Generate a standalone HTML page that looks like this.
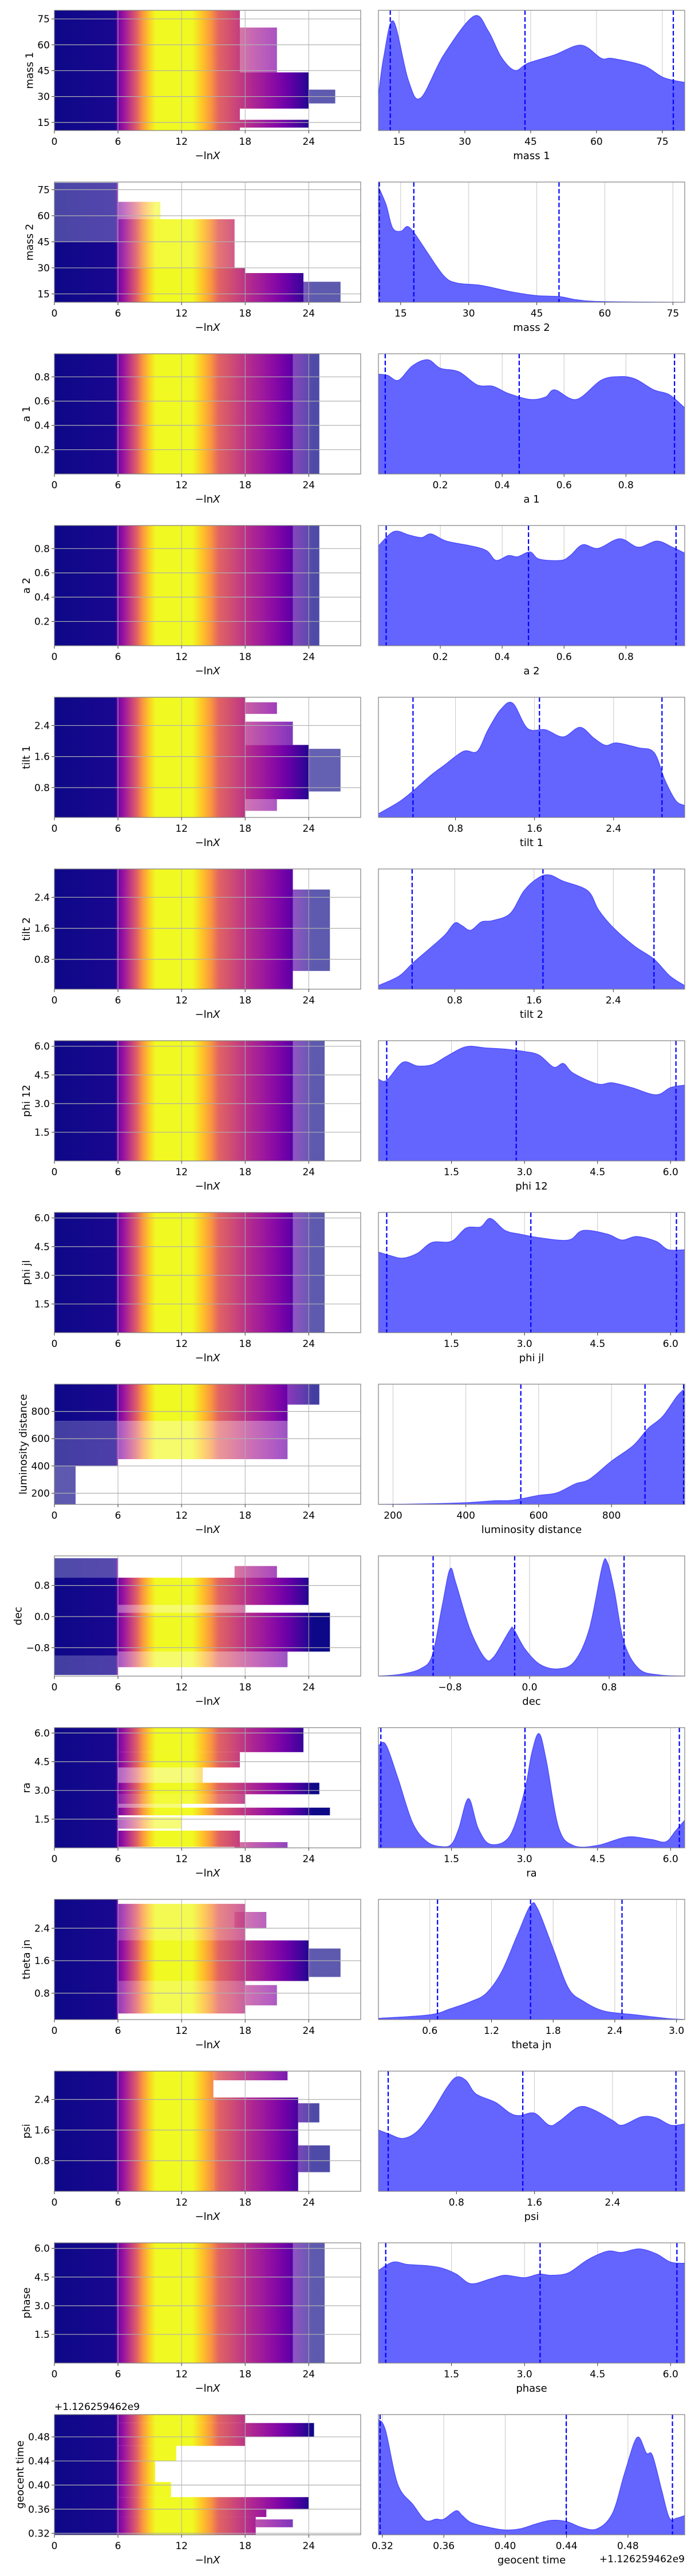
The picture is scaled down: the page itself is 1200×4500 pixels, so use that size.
<!DOCTYPE html>
<html><head><meta charset="utf-8"><title>Nested sampling trace plots</title>
<style>
html,body{margin:0;padding:0;background:#fff;}
svg{display:block;font-family:"DejaVu Sans","Liberation Sans",sans-serif;}
</style></head>
<body>
<svg id="fig" width="1200" height="4500" viewBox="0 0 1200 4500" xmlns="http://www.w3.org/2000/svg">
<defs>
<linearGradient id="plasma" gradientUnits="userSpaceOnUse" x1="95" y1="0" x2="630" y2="0">
<stop offset="0" stop-color="#0d0887"/>
<stop offset="0.200" stop-color="#1a0791"/>
<stop offset="0.205" stop-color="#6a00a8"/>
<stop offset="0.228" stop-color="#9c179e"/>
<stop offset="0.250" stop-color="#c33d80"/>
<stop offset="0.270" stop-color="#e16462"/>
<stop offset="0.287" stop-color="#f89540"/>
<stop offset="0.311" stop-color="#fccf25"/>
<stop offset="0.330" stop-color="#f0f921"/>
<stop offset="0.450" stop-color="#f0f921"/>
<stop offset="0.484" stop-color="#fdc328"/>
<stop offset="0.512" stop-color="#f89540"/>
<stop offset="0.536" stop-color="#e16462"/>
<stop offset="0.588" stop-color="#cc4778"/>
<stop offset="0.640" stop-color="#b12a90"/>
<stop offset="0.709" stop-color="#8f0da4"/>
<stop offset="0.760" stop-color="#6a00a8"/>
<stop offset="0.810" stop-color="#3a049a"/>
<stop offset="0.845" stop-color="#0d0887"/>
<stop offset="1" stop-color="#0d0887"/>
</linearGradient>
</defs>
</svg>
<script>
// ---------- KDE data (posterior densities, fraction of panel height) ----------
const mass1X=[10.3,11.5,13.7,17.1,19.9,25.2,32,35.3,38.3,41.4,44.4,50.5,56.5,61.1,63.6,70.7,75.3,80.1];
const mass1D=[0.29,0.61,0.91,0.42,0.27,0.63,0.95,0.83,0.61,0.5,0.56,0.63,0.71,0.60,0.60,0.54,0.44,0.40];
const mass1Q=[13.0,43.7,77.5];
const mass2X=[10.1,11.8,13.2,15,16.5,18.1,20.6,24.5,27.4,32.8,39.2,45,50,53.9,59.7,77.6];
const mass2D=[0.96,0.81,0.62,0.59,0.63,0.57,0.43,0.22,0.16,0.14,0.088,0.055,0.047,0.02,0.005,0];
const mass2Q=[10.3,17.9,49.9];
const a1X=[0,0.03,0.065,0.11,0.16,0.2,0.26,0.32,0.37,0.42,0.49,0.54,0.57,0.64,0.72,0.78,0.83,0.89,0.94,0.99];
const a1D=[0.83,0.82,0.78,0.90,0.95,0.88,0.85,0.74,0.73,0.67,0.62,0.64,0.70,0.62,0.78,0.81,0.79,0.70,0.66,0.55];
const a1Q=[0.022,0.455,0.957];
const a2X=[0,0.05,0.1,0.14,0.17,0.22,0.3,0.35,0.38,0.42,0.45,0.49,0.52,0.59,0.62,0.66,0.71,0.78,0.84,0.9,0.95,0.99];
const a2D=[0.83,0.95,0.92,0.90,0.93,0.87,0.83,0.79,0.71,0.75,0.74,0.78,0.72,0.71,0.75,0.84,0.81,0.89,0.82,0.87,0.82,0.77];
const a2Q=[0.025,0.485,0.962];
const tilt1X=[0.02,0.23,0.37,0.55,0.68,0.88,1.02,1.13,1.26,1.38,1.53,1.71,1.89,2.06,2.2,2.32,2.43,2.65,2.81,2.92,3.03,3.12];
const tilt1D=[0.03,0.13,0.22,0.35,0.43,0.55,0.55,0.73,0.90,0.95,0.74,0.73,0.67,0.75,0.66,0.60,0.62,0.58,0.54,0.31,0.14,0.10];
const tilt1Q=[0.37,1.65,2.89];
const tilt2X=[0.03,0.24,0.38,0.55,0.7,0.8,0.87,0.96,1.07,1.18,1.36,1.5,1.65,1.76,1.89,2.14,2.25,2.39,2.61,2.81,2.97,3.12];
const tilt2D=[0.03,0.11,0.22,0.34,0.45,0.55,0.53,0.49,0.56,0.57,0.63,0.82,0.93,0.95,0.90,0.82,0.66,0.52,0.36,0.25,0.11,0.03];
const tilt2Q=[0.37,1.69,2.81];
const phi12X=[0,0.17,0.5,0.8,1.1,1.4,1.8,2.2,2.6,3.0,3.3,3.6,3.8,4.0,4.5,4.8,5.2,5.7,6.0,6.29];
const phi12D=[0.68,0.67,0.82,0.79,0.80,0.87,0.95,0.94,0.93,0.91,0.88,0.78,0.81,0.73,0.64,0.65,0.61,0.55,0.61,0.63];
const phi12Q=[0.17,2.83,6.11];
const phijlX=[0,0.25,0.5,0.8,1.1,1.5,1.8,2.1,2.3,2.6,2.9,3.3,3.9,4.2,4.7,5.0,5.3,5.7,5.95,6.29];
const phijlD=[0.67,0.64,0.62,0.66,0.75,0.76,0.87,0.88,0.95,0.85,0.82,0.79,0.77,0.85,0.82,0.77,0.80,0.76,0.69,0.69];
const phijlQ=[0.17,3.13,6.12];
const ldX=[160,300,400,480,530,600,650,700,740,800,860,900,940,980,1000];
const ldD=[0,0.005,0.014,0.03,0.035,0.075,0.096,0.17,0.21,0.36,0.49,0.63,0.73,0.90,0.96];
const ldQ=[551,892,998];
const decX=[-1.52,-1.3,-1.1,-0.98,-0.88,-0.8,-0.74,-0.6,-0.45,-0.36,-0.2,-0.16,-0.05,0.1,0.28,0.45,0.6,0.73,0.78,0.85,0.95,1.1,1.3,1.56];
const decD=[0,0.015,0.06,0.17,0.58,0.89,0.77,0.39,0.15,0.16,0.38,0.39,0.23,0.10,0.06,0.12,0.39,0.91,0.95,0.72,0.28,0.06,0.01,0];
const decQ=[-0.97,-0.15,0.95];
const raX=[0,0.15,0.4,0.7,1.0,1.3,1.5,1.65,1.85,2.05,2.3,2.7,3.0,3.15,3.3,3.45,3.7,4.0,4.5,5.1,5.6,5.9,6.1,6.29];
const raD=[0.85,0.86,0.58,0.21,0.05,0.01,0.03,0.16,0.41,0.16,0.03,0.10,0.47,0.79,0.95,0.72,0.17,0.02,0.02,0.09,0.07,0.05,0.14,0.23];
const raQ=[0.05,3.01,6.18];
const thetaX=[0.1,0.6,0.8,1.0,1.15,1.3,1.45,1.58,1.65,1.8,1.95,2.1,2.3,2.6,2.9,3.08];
const thetaD=[0.01,0.04,0.09,0.15,0.22,0.40,0.70,0.95,0.92,0.59,0.26,0.15,0.07,0.04,0.01,0];
const thetaQ=[0.675,1.58,2.47];
const psiX=[0,0.1,0.25,0.4,0.55,0.7,0.8,0.9,1.0,1.2,1.35,1.45,1.6,1.75,1.85,2.05,2.2,2.4,2.5,2.7,2.85,3.0,3.14];
const psiD=[0.51,0.48,0.44,0.50,0.66,0.86,0.95,0.92,0.81,0.74,0.65,0.63,0.65,0.55,0.58,0.70,0.68,0.59,0.55,0.62,0.61,0.55,0.56];
const psiQ=[0.1,1.48,3.05];
const phaseX=[0,0.3,0.6,1.0,1.3,1.6,1.9,2.3,2.6,3.0,3.3,3.55,3.9,4.3,4.7,5.0,5.35,5.7,6.0,6.29];
const phaseD=[0.77,0.84,0.82,0.81,0.79,0.74,0.66,0.70,0.73,0.71,0.74,0.73,0.75,0.86,0.93,0.92,0.95,0.91,0.84,0.83];
const phaseQ=[0.15,3.32,6.13];
const geoX=[0.3174,0.322,0.33,0.34,0.348,0.355,0.36,0.368,0.372,0.378,0.39,0.4,0.41,0.42,0.43,0.44,0.45,0.46,0.47,0.478,0.486,0.492,0.496,0.502,0.507,0.512,0.517];
const geoD=[0.96,0.87,0.42,0.25,0.12,0.13,0.13,0.20,0.16,0.10,0.06,0.04,0.05,0.09,0.12,0.11,0.06,0.05,0.18,0.52,0.81,0.68,0.66,0.37,0.14,0.14,0.16];
const geoQ=[0.3185,0.4398,0.509];

// ---------- scatter density bands: [yLo, yHi, lnX start, lnX end, density] ----------
const mass1Bands=[[10.3,80,0,17.5,1],[23,44,0,24,1],[12,16.5,0,24,1],[44,70,17,21,0.45],[26,34,24,26.5,0.4]];
const mass2Bands=[[10.2,45,0,6,1],[45,79,0,6,0.55],[10.2,30,6,18,1],[30,58,6,17,0.8],[58,68,6,10,0.3],[10.2,27,18,23.5,1],[10.2,22,23.5,27,0.4]];
const a1Bands=[[0,0.99,0,22.5,1],[0,0.99,22.5,25,0.5]];
const a2Bands=[[0,0.99,0,22.5,1],[0,0.99,22.5,25,0.5]];
const tilt1Bands=[[0.03,3.13,0,18,1],[2.7,3.0,18,21,0.6],[1.9,2.5,18,22.5,0.6],[0.5,1.9,18,24,1],[0.7,1.8,24,27,0.35],[0.2,0.5,18,21,0.4]];
const tilt2Bands=[[0.03,3.13,0,22.5,1],[0.5,2.6,22.5,26,0.4]];
const phi12Bands=[[0,6.29,0,22.5,1],[0,6.29,22.5,25.5,0.4]];
const phijlBands=[[0,6.29,0,22.5,1],[0,6.29,22.5,25.5,0.4]];
const ldBands=[[730,1000,0,22,1],[850,1000,22,25,0.6],[450,730,6,22,0.4],[400,730,0,6,0.6],[120,400,0,2,0.4]];
const decBands=[[-1.0,1.0,0,6,1],[1.0,1.5,0,6,0.5],[-1.5,-1.0,0,6,0.6],[0.3,1.0,6,24,1],[-0.9,0.1,6,26,1],[0.1,0.3,6,18,0.4],[1.0,1.3,17,21,0.5],[-1.3,-0.9,6,22,0.4]];
const raBands=[[0,6.28,0,6,1],[5.0,6.28,6,23.5,1],[4.2,5.0,6,17.5,1],[2.8,3.4,6,25,1],[2.3,2.8,6,18,0.8],[1.7,2.1,6,26,1],[0.05,0.9,6,17.5,1],[0,0.3,17,22,0.5],[3.4,4.2,6,14,0.3],[1.0,1.6,6,12,0.3],[2.1,2.3,6,12,0.3]];
const thetaBands=[[0.15,3.11,0,6,1],[1.1,2.1,6,24,1],[2.0,3.0,6,18,0.6],[0.3,1.1,6,18,0.6],[0.5,1.0,18,21,0.4],[2.4,2.8,17,20,0.4],[1.2,1.9,24,27,0.4]];
const psiBands=[[0,3.14,0,15,1],[2.9,3.14,15,22,0.8],[0,2.45,15,23,1],[1.8,2.3,23,25,0.5],[0.5,1.2,23,26,0.5]];
const phaseBands=[[0,6.29,0,22.5,1],[0,6.29,22.5,25.5,0.4]];
const geoBands=[[0.3175,0.517,0,6,1],[0.503,0.517,6,18,1],[0.48,0.503,6,24.5,1],[0.465,0.48,6,18,1],[0.44,0.465,6,11.5,1],[0.405,0.44,6,9.5,1],[0.38,0.405,6,11,1],[0.36,0.38,6,24,1],[0.347,0.36,6,20,1],[0.3175,0.347,6,19,1],[0.33,0.343,19,22.5,0.6]];

// ---------- axis ticks ----------
const lnXTicks=[0,6,12,18,24];
const massTicks=[15,30,45,60,75];
const spinTicks=[0.2,0.4,0.6,0.8];
const tiltTicks=[0.8,1.6,2.4];
const angTicks=[1.5,3.0,4.5,6.0];
const ldTicks=[200,400,600,800];
const decTicks=[-0.8,0.0,0.8];
const thetaXTicks=[0.6,1.2,1.8,2.4,3.0];
const geoTicks=[0.32,0.36,0.40,0.44,0.48];

const rows=[
 {key:'mass-1',label:'mass 1',yDom:[10.3,80],yT:massTicks,d:0,xDom:[10.3,80.1],xT:massTicks,kx:mass1X,kd:mass1D,q:mass1Q,b:mass1Bands},
 {key:'mass-2',label:'mass 2',yDom:[10.2,79.4],yT:massTicks,d:0,xDom:[10.1,77.6],xT:massTicks,kx:mass2X,kd:mass2D,q:mass2Q,b:mass2Bands},
 {key:'a-1',label:'a 1',yDom:[0,0.99],yT:spinTicks,d:1,xDom:[0,0.99],xT:spinTicks,kx:a1X,kd:a1D,q:a1Q,b:a1Bands},
 {key:'a-2',label:'a 2',yDom:[0,0.99],yT:spinTicks,d:1,xDom:[0,0.99],xT:spinTicks,kx:a2X,kd:a2D,q:a2Q,b:a2Bands},
 {key:'tilt-1',label:'tilt 1',yDom:[0.03,3.13],yT:tiltTicks,d:1,xDom:[0.02,3.12],xT:tiltTicks,kx:tilt1X,kd:tilt1D,q:tilt1Q,b:tilt1Bands},
 {key:'tilt-2',label:'tilt 2',yDom:[0.03,3.13],yT:tiltTicks,d:1,xDom:[0.03,3.12],xT:tiltTicks,kx:tilt2X,kd:tilt2D,q:tilt2Q,b:tilt2Bands},
 {key:'phi-12',label:'phi 12',yDom:[0,6.29],yT:angTicks,d:1,xDom:[0,6.29],xT:angTicks,kx:phi12X,kd:phi12D,q:phi12Q,b:phi12Bands},
 {key:'phi-jl',label:'phi jl',yDom:[0,6.29],yT:angTicks,d:1,xDom:[0,6.29],xT:angTicks,kx:phijlX,kd:phijlD,q:phijlQ,b:phijlBands},
 {key:'luminosity-distance',label:'luminosity distance',yDom:[118,1000],yT:ldTicks,d:0,xDom:[160,1001],xT:ldTicks,kx:ldX,kd:ldD,q:ldQ,b:ldBands},
 {key:'dec',label:'dec',yDom:[-1.53,1.56],yT:decTicks,d:1,xDom:[-1.52,1.56],xT:decTicks,kx:decX,kd:decD,q:decQ,b:decBands},
 {key:'ra',label:'ra',yDom:[0,6.28],yT:angTicks,d:1,xDom:[0,6.29],xT:angTicks,kx:raX,kd:raD,q:raQ,b:raBands},
 {key:'theta-jn',label:'theta jn',yDom:[0.15,3.11],yT:tiltTicks,d:1,xDom:[0.1,3.08],xT:thetaXTicks,kx:thetaX,kd:thetaD,q:thetaQ,b:thetaBands},
 {key:'psi',label:'psi',yDom:[0,3.14],yT:tiltTicks,d:1,xDom:[0,3.14],xT:tiltTicks,kx:psiX,kd:psiD,q:psiQ,b:psiBands},
 {key:'phase',label:'phase',yDom:[0,6.29],yT:angTicks,d:1,xDom:[0,6.29],xT:angTicks,kx:phaseX,kd:phaseD,q:phaseQ,b:phaseBands},
 {key:'geocent-time',label:'geocent time',yDom:[0.3175,0.517],yT:geoTicks,d:2,xDom:[0.3174,0.517],xT:geoTicks,kx:geoX,kd:geoD,q:geoQ,b:geoBands,offset:'+1.126259462e9'}
];

const NS='http://www.w3.org/2000/svg';
const svg=document.getElementById('fig');
const LX0=95,LX1=630,RX0=661,RX1=1196,PH=210,LNX=[0,28.9];
function el(tag,attrs,parent){const e=document.createElementNS(NS,tag);for(const k in attrs)e.setAttribute(k,attrs[k]);(parent||svg).appendChild(e);return e;}
function lin(d0,d1,r0,r1){return v=>r0+(v-d0)*(r1-r0)/(d1-d0);}
function smooth(pts){let d='M'+pts[0][0].toFixed(2)+','+pts[0][1].toFixed(2);
 for(let i=0;i<pts.length-1;i++){const p0=pts[Math.max(0,i-1)],p1=pts[i],p2=pts[i+1],p3=pts[Math.min(pts.length-1,i+2)];
  const c1=[p1[0]+(p2[0]-p0[0])/6,p1[1]+(p2[1]-p0[1])/6],c2=[p2[0]-(p3[0]-p1[0])/6,p2[1]-(p3[1]-p1[1])/6];
  d+=' C'+c1[0].toFixed(2)+','+c1[1].toFixed(2)+' '+c2[0].toFixed(2)+','+c2[1].toFixed(2)+' '+p2[0].toFixed(2)+','+p2[1].toFixed(2);}
 return d;}
function fmt(v,d){const s=v.toFixed(d);return s.replace('-','\u2212');}

rows.forEach((r,i)=>{
 const T=18+300*i,B=T+PH;
 const g=el('g',{});
 
 
 const cp=el('clipPath',{id:'cl'+i},g);el('rect',{x:LX0,y:T,width:LX1-LX0,height:PH},cp);
 const cpr=el('clipPath',{id:'cr'+i},g);el('rect',{x:RX0,y:T,width:RX1-RX0,height:PH},cpr);
 // ---- left trace panel ----
 const sx=lin(LNX[0],LNX[1],LX0,LX1), sy=lin(r.yDom[0],r.yDom[1],B,T);
 const lp=el('g',{'clip-path':'url(#cl'+i+')'},g);
 
 
 r.b.forEach(b=>{
  const rc=el('rect',{x:sx(b[2]),y:sy(b[1]),width:sx(b[3])-sx(b[2]),height:sy(b[0])-sy(b[1]),fill:'url(#plasma)',opacity:(0.45+0.55*b[4]).toFixed(2)},lp);
  
  
 });
 lnXTicks.forEach(t=>{el('line',{x1:sx(t),x2:sx(t),y1:T,y2:B,stroke:'#b0b0b0','stroke-width':1},lp);});
 r.yT.forEach(t=>{el('line',{x1:LX0,x2:LX1,y1:sy(t),y2:sy(t),stroke:'#b0b0b0','stroke-width':1.2},lp);});
 const lf=el('rect',{x:LX0,y:T,width:LX1-LX0,height:PH,fill:'none',stroke:'#808080','stroke-width':1.2},g);
 
 
 lnXTicks.forEach(t=>{
  el('line',{x1:sx(t),x2:sx(t),y1:B,y2:B+5,stroke:'#333','stroke-width':1},g);
  const tx=el('text',{x:sx(t),y:B+25,'text-anchor':'middle','font-size':17,fill:'#000'},g);tx.textContent=String(t);
  
  
 });
 let maxW=0;
 r.yT.forEach(t=>{
  el('line',{x1:LX0-5,x2:LX0,y1:sy(t),y2:sy(t),stroke:'#333','stroke-width':1},g);
  const tx=el('text',{x:LX0-8,y:sy(t)+6,'text-anchor':'end','font-size':17,fill:'#000'},g);tx.textContent=fmt(t,r.d);
  
  
  try{maxW=Math.max(maxW,tx.getComputedTextLength());}catch(e){maxW=Math.max(maxW,tx.textContent.length*10.5);}
 });
 if(!maxW) maxW=30;
 const xl=el('text',{x:(LX0+LX1)/2,y:B+50,'text-anchor':'middle','font-size':18,fill:'#000'},g);
 
 
 const t1=el('tspan',{},xl);t1.textContent='\u2212ln';const t2=el('tspan',{'font-style':'italic'},xl);t2.textContent='X';
 const labX=LX0-8-maxW-8;
 const yl=el('text',{x:0,y:0,'text-anchor':'middle','font-size':18,fill:'#000',transform:'translate('+labX.toFixed(1)+','+(T+PH/2)+') rotate(-90)'},g);
 yl.textContent=r.label;
 
 
 // ---- right KDE panel ----
 const rx=lin(r.xDom[0],r.xDom[1],RX0,RX1), ry=lin(0,1,B,T);
 const rp=el('g',{'clip-path':'url(#cr'+i+')'},g);
 
 
 r.xT.forEach(t=>{el('line',{x1:rx(t),x2:rx(t),y1:T,y2:B,stroke:'#c8c8c8','stroke-width':1},rp);});
 const pts=r.kx.map((x,k)=>[rx(x),ry(r.kd[k])]);
 const dp=smooth(pts);
 const area=el('path',{d:dp+' L'+pts[pts.length-1][0]+','+B+' L'+pts[0][0]+','+B+' Z',fill:'#6464ff',stroke:'none'},rp);
 
 
 const ln=el('path',{d:dp,fill:'none',stroke:'#4a4aff','stroke-width':1.3},rp);
 
 
 r.q.forEach(q=>{
  const ql=el('line',{x1:rx(q),x2:rx(q),y1:T,y2:B,stroke:'#0000ff','stroke-width':2.2,'stroke-dasharray':'8,4'},rp);
  
  
 });
 const rf=el('rect',{x:RX0,y:T,width:RX1-RX0,height:PH,fill:'none',stroke:'#808080','stroke-width':1.2},g);
 
 
 r.xT.forEach(t=>{
  el('line',{x1:rx(t),x2:rx(t),y1:B,y2:B+5,stroke:'#333','stroke-width':1},g);
  const tx=el('text',{x:rx(t),y:B+25,'text-anchor':'middle','font-size':17,fill:'#000'},g);tx.textContent=fmt(t,r.d);
  
  
 });
 const xr=el('text',{x:(RX0+RX1)/2,y:B+50,'text-anchor':'middle','font-size':18,fill:'#000'},g);
 xr.textContent=r.label;
 
 
 if(r.offset){
  const o1=el('text',{x:LX0,y:T-8,'text-anchor':'start','font-size':17,fill:'#000'},g);o1.textContent=r.offset;
  
  
  const o2=el('text',{x:RX1,y:B+48,'text-anchor':'end','font-size':17,fill:'#000'},g);o2.textContent=r.offset;
  
  
 }
});
</script>
</body></html>
